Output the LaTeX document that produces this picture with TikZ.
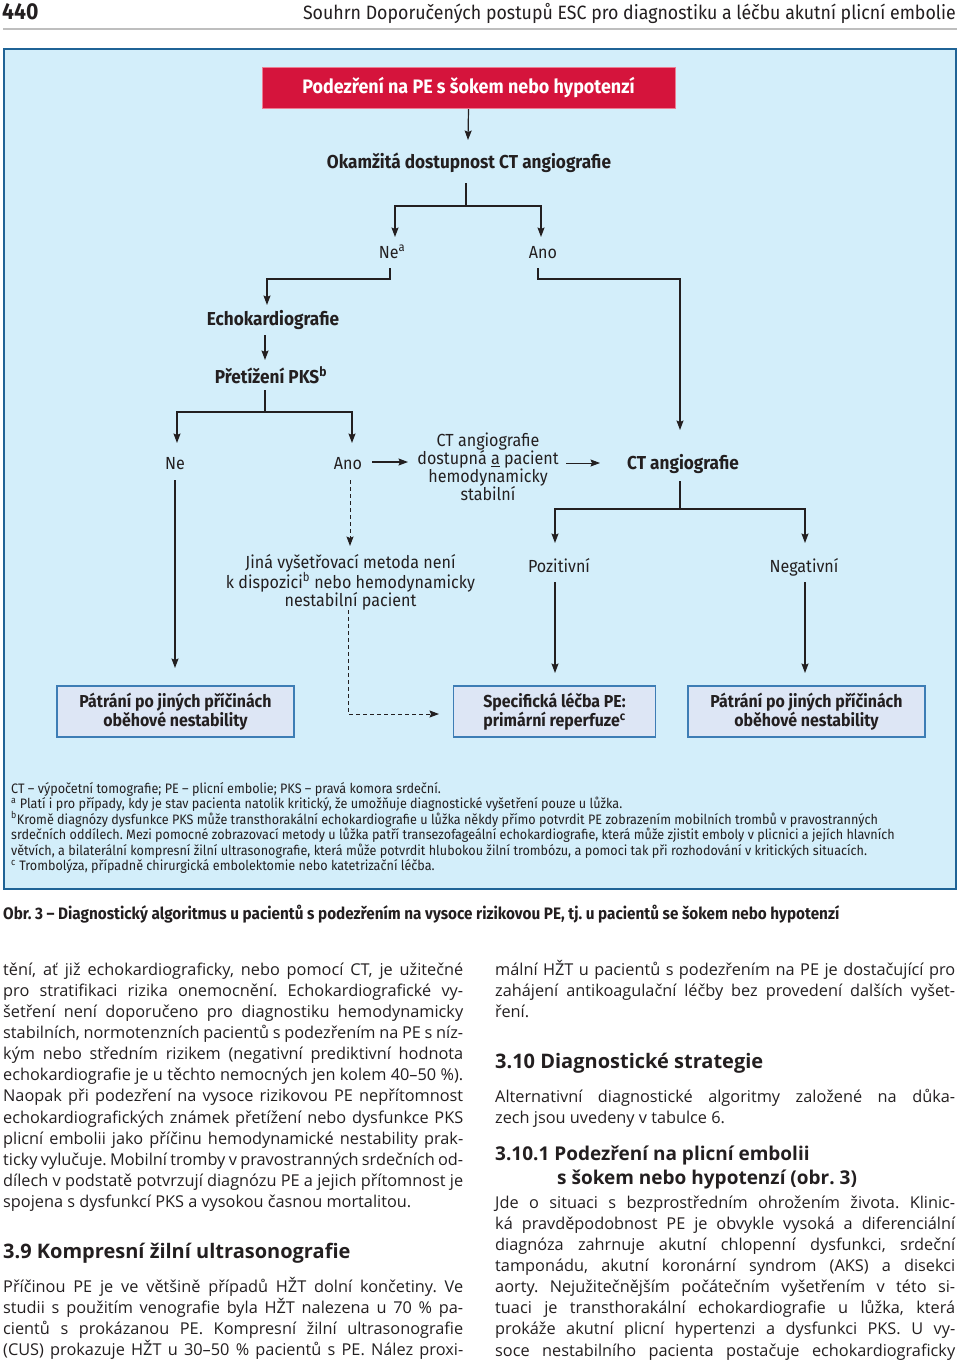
\documentclass[tikz,border=0pt]{standalone}
\usepackage{fontspec}
\setmainfont{Open Sans}
\newfontfamily\cond[FakeStretch=0.92]{Fira Sans}
\usetikzlibrary{arrows.meta}
\frenchspacing
\definecolor{ink}{HTML}{231F20}
\definecolor{bluebg}{HTML}{D3EEFA}
\definecolor{boxblue}{HTML}{1F6396}
\definecolor{redfill}{HTML}{D5143C}
\definecolor{redline}{HTML}{EC7E93}
\definecolor{endfill}{HTML}{DDE6F5}
\definecolor{endline}{HTML}{3D7DB5}
\definecolor{rule}{HTML}{BEBEBE}
\newlength{\colw}\setlength{\colw}{460pt}
\newcommand{\justl}[1]{\hbox to \colw{#1}}
\newcommand{\lastl}[1]{\hbox to \colw{#1\hfil}}
\tikzset{
  lab/.style={inner sep=0pt, outer sep=0pt, text=ink, font=\cond\fontsize{17.5}{18}\selectfont},
  blab/.style={lab, font=\cond\bfseries\fontsize{18.7}{18}\selectfont},
  mlab/.style={lab, align=center, font=\cond\fontsize{17.5}{18}\selectfont},
  redbox/.style={draw=redline, fill=redfill, line width=1pt, text=white, minimum width=413pt, minimum height=41pt, inner sep=0pt, font=\cond\bfseries\fontsize{19.5}{19.5}\selectfont},
  endbox/.style={draw=endline, fill=endfill, line width=1.2pt, minimum width=237pt, minimum height=51pt, inner sep=0pt, align=center, text=ink, font=\cond\bfseries\fontsize{17.3}{18}\selectfont},
  arr/.style={draw=ink, line width=1.2pt, -{Stealth[length=9.5pt,width=7pt,inset=1.5pt]}},
  ln/.style={draw=ink, line width=1.2pt},
  dsh/.style={draw=ink, line width=1pt, dash pattern=on 4pt off 3pt},
  fn/.style={inner sep=0pt, anchor=base west, text=ink, font=\cond\fontsize{13.7}{15}\selectfont},
  body/.style={inner sep=0pt, anchor=base west, text=ink, font=\fontsize{16.3}{21.15}\selectfont},
  head/.style={inner sep=0pt, anchor=base west, text=ink, font=\bfseries\fontsize{20}{24}\selectfont},
}
\begin{document}
\begin{tikzpicture}[x=1pt,y=-1pt]
\useasboundingbox (0,0) rectangle (960,1361);
\fill[white] (0,0) rectangle (960,1361);
% header
\node[inner sep=0pt, anchor=base west, text=ink, font=\cond\bfseries\fontsize{23}{23}\selectfont] (pg) at (2,19) {440};
\node[inner sep=0pt, anchor=base east, text=ink, font=\cond\fontsize{19.3}{20}\selectfont] (hd) at (956,19) {Souhrn Doporučených postupů ESC pro diagnostiku a léčbu akutní plicní embolie};
\draw[rule, line width=2pt] (3,29) -- (957,29);
% figure frame
\draw[fill=bluebg, draw=boxblue, line width=2.5pt] (4,49) rectangle (956,889);
% nodes
\node[redbox] (start) at (468.5,88) {Podezření na PE s šokem nebo hypotenzí};
\node[blab, anchor=base] (ok) at (469,168) {Okamžitá dostupnost CT angiografie};
\node[lab, anchor=base] (nea) at (392,258) {Ne\textsuperscript{a}};
\node[lab, anchor=base] (anoa) at (543,258) {Ano};
\node[blab, anchor=base] (echo) at (273,325) {Echokardiografie};
\node[blab, anchor=base] (pks) at (271,383) {Přetížení PKS\textsuperscript{b}};
\node[lab, anchor=base] (ne2) at (175,469) {Ne};
\node[lab, anchor=base] (ano2) at (348,469) {Ano};
\node[mlab] (cond) at (488,467) {CT angiografie\\dostupná \underline{a} pacient\\hemodynamicky\\stabilní};
\node[blab, anchor=base] (ct) at (683,469) {CT angiografie};
\node[mlab] (jina) at (350.5,582) {Jiná vyšetřovací metoda není\\k dispozici\textsuperscript{b} nebo hemodynamicky\\nestabilní pacient};
\node[lab, anchor=base] (poz) at (559,572) {Pozitivní};
\node[lab, anchor=base] (neg) at (804,572) {Negativní};
\node[endbox] (b1) at (175.5,711.5) {Pátrání po jiných příčinách\\oběhové nestability};
\node[endbox, minimum width=202pt] (b2) at (554.5,711.5) {Specifická léčba PE:\\primární reperfuze\textsuperscript{c}};
\node[endbox] (b3) at (806.5,711.5) {Pátrání po jiných příčinách\\oběhové nestability};
% connector points
\coordinate (okIn) at (468,140);
\coordinate (okOut) at (466,183);
\coordinate (j1) at (466,206);
\coordinate (neaIn) at (395,237);
\coordinate (anoaIn) at (541,237);
\coordinate (neaOut) at (390,268);
\coordinate (nb1) at (390,279);
\coordinate (echoIn) at (267,305);
\coordinate (anoaOut) at (538,268);
\coordinate (ab1) at (538,279);
\coordinate (ctIn) at (680,430);
\coordinate (echoOut) at (265,335);
\coordinate (pksIn) at (265,360);
\coordinate (pksOut) at (265,390);
\coordinate (j2) at (265,412);
\coordinate (ne2In) at (177,443);
\coordinate (ano2In) at (352,443);
\coordinate (ano2R) at (372,462);
\coordinate (condL) at (408,462);
\coordinate (condR) at (566,463);
\coordinate (ctL) at (600,463);
\coordinate (ctOut) at (680,481);
\coordinate (j3) at (680,509);
\coordinate (pozIn) at (555,543);
\coordinate (negIn) at (805,543);
\coordinate (pozOut) at (555,582);
\coordinate (b2In) at (555,673);
\coordinate (negOut) at (805,582);
\coordinate (b3In) at (805,673);
\coordinate (ne2Out) at (175,480);
\coordinate (b1In) at (175,668);
\coordinate (ano2Out) at (350,480);
\coordinate (jinaIn) at (350,546);
\coordinate (jinaOut) at (348,610);
\coordinate (jb) at (348,714);
\coordinate (b2L) at (439,714);
% connectors
\draw[arr] (start.south) -- (okIn);
\draw[ln] (okOut) -- (j1);
\draw[arr] (j1) -| (neaIn);
\draw[arr] (j1) -| (anoaIn);
\draw[arr] (neaOut) -- (nb1) -| (echoIn);
\draw[arr] (anoaOut) -- (ab1) -| (ctIn);
\draw[arr] (echoOut) -- (pksIn);
\draw[ln] (pksOut) -- (j2);
\draw[arr] (j2) -| (ne2In);
\draw[arr] (j2) -| (ano2In);
\draw[arr] (ano2R) -- (condL);
\draw[arr, line width=0.9pt] (condR) -- (ctL);
\draw[ln] (ctOut) -- (j3);
\draw[arr] (j3) -| (pozIn);
\draw[arr] (j3) -| (negIn);
\draw[arr] (pozOut) -- (b2In);
\draw[arr] (negOut) -- (b3In);
\draw[arr] (ne2Out) -- (b1In);
\draw[dsh, -{Stealth[length=9.5pt,width=7pt,inset=1.5pt]}] (ano2Out) -- (jinaIn);
\draw[dsh, -{Stealth[length=9.5pt,width=7pt,inset=1.5pt]}] (jinaOut) -- (jb) -- (b2L);
% footnotes
\node[fn] (f1) at (11,793) {CT – výpočetní tomografie; PE – plicní embolie; PKS – pravá komora srdeční.};
\node[fn] (f2) at (11,808.5) {\textsuperscript{a} Platí i pro případy, kdy je stav pacienta natolik kritický, že umožňuje diagnostické vyšetření pouze u lůžka.};
\node[fn] (f3) at (11,824) {\textsuperscript{b}Kromě diagnózy dysfunkce PKS může transthorakální echokardiografie u lůžka někdy přímo potvrdit PE zobrazením mobilních trombů v pravostranných};
\node[fn] (f4) at (11,839.5) {srdečních oddílech. Mezi pomocné zobrazovací metody u lůžka patří transezofageální echokardiografie, která může zjistit emboly v plicnici a jejích hlavních};
\node[fn] (f5) at (11,855) {větvích, a bilaterální kompresní žilní ultrasonografie, která může potvrdit hlubokou žilní trombózu, a pomoci tak při rozhodování v kritických situacích.};
\node[fn] (f6) at (11,870.5) {\textsuperscript{c} Trombolýza, případně chirurgická embolektomie nebo katetrizační léčba.};
% caption
\node[inner sep=0pt, anchor=base west, text=ink, font=\cond\bfseries\fontsize{16.6}{18}\selectfont] (cap) at (3,919) {Obr. 3 – Diagnostický algoritmus u pacientů s podezřením na vysoce rizikovou PE, tj. u pacientů se šokem nebo hypotenzí};
% body text, left column
\node[body] (p1) at (3,975) {\vtop{\baselineskip=21.15pt
\justl{tění, ať již echokardiograficky, nebo pomocí CT, je užitečné}
\justl{pro stratifikaci rizika onemocnění. Echokardiografické vy-}
\justl{šetření není doporučeno pro diagnostiku hemodynamicky}
\justl{stabilních, normotenzních pacientů s podezřením na PE s níz-}
\justl{kým nebo středním rizikem (negativní prediktivní hodnota}
\justl{echokardiografie je u těchto nemocných jen kolem 40–50~\%).}
\justl{Naopak při podezření na vysoce rizikovou PE nepřítomnost}
\justl{echokardiografických známek přetížení nebo dysfunkce PKS}
\justl{plicní embolii jako příčinu hemodynamické nestability prak-}
\justl{ticky vylučuje. Mobilní tromby v pravostranných srdečních od-}
\justl{dílech v podstatě potvrzují diagnózu PE a jejich přítomnost je}
\lastl{spojena s dysfunkcí PKS a vysokou časnou mortalitou.}}};
\node[head] (h39) at (3,1258) {3.9 Kompresní žilní ultrasonografie};
\node[body] (p2) at (3,1292) {\vtop{\baselineskip=21.15pt
\justl{Příčinou PE je ve většině případů HŽT dolní končetiny. Ve}
\justl{studii s použitím venografie byla HŽT nalezena u 70 \% pa-}
\justl{cientů s prokázanou PE. Kompresní žilní ultrasonografie}
\justl{(CUS) prokazuje HŽT u 30–50 \% pacientů s PE. Nález proxi-}}};
% body text, right column
\node[body] (p3) at (495,975) {\vtop{\baselineskip=21.15pt
\justl{mální HŽT u pacientů s podezřením na PE je dostačující pro}
\justl{zahájení antikoagulační léčby bez provedení dalších vyšet-}
\lastl{ření.}}};
\node[head] (h310) at (495,1068) {3.10 Diagnostické strategie};
\node[body] (p4) at (495,1102) {\vtop{\baselineskip=21.15pt
\justl{Alternativní diagnostické algoritmy založené na důka-}
\lastl{zech jsou uvedeny v tabulce 6.}}};
\node[head, font=\bfseries\fontsize{19}{24}\selectfont] (h3101) at (495,1160) {3.10.1 Podezření na plicní embolii};
\node[head, font=\bfseries\fontsize{19}{24}\selectfont] (h3101b) at (557,1184) {s šokem nebo hypotenzí (obr. 3)};
\node[body] (p5) at (495,1208) {\vtop{\baselineskip=21.15pt
\justl{Jde o situaci s bezprostředním ohrožením života. Klinic-}
\justl{ká pravděpodobnost PE je obvykle vysoká a diferenciální}
\justl{diagnóza zahrnuje akutní chlopenní dysfunkci, srdeční}
\justl{tamponádu, akutní koronární syndrom (AKS) a disekci}
\justl{aorty. Nejužitečnějším počátečním vyšetřením v této si-}
\justl{tuaci je transthorakální echokardiografie u lůžka, která}
\justl{prokáže akutní plicní hypertenzi a dysfunkci PKS. U vy-}
\justl{soce nestabilního pacienta postačuje echokardiograficky}}};
\end{tikzpicture}
\end{document}
